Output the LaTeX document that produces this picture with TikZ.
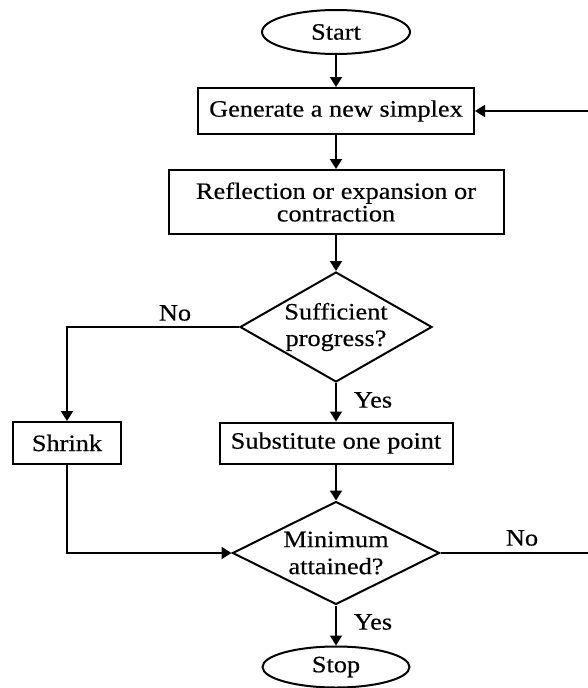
\documentclass[tikz,border=0pt]{standalone}
\usepackage{fontspec}
\setmainfont{Liberation Serif}[FakeStretch=1.12,FakeBold=0.4]
\usetikzlibrary{shapes.geometric,arrows.meta}
\begin{document}
\begin{tikzpicture}[x=1pt,y=-1pt,
  line width=2pt,
  every node/.style={font=\fontsize{23.5}{23}\selectfont},
  term/.style={draw,ellipse,minimum width=148pt,minimum height=44pt,inner sep=0pt},
  proc/.style={draw,rectangle,inner sep=0pt,align=center},
  dec/.style={draw,diamond,inner sep=0pt},
  lbl/.style={inner sep=0pt,align=center},
  arr/.style={-{Triangle[length=10pt,width=12pt]}}
]
\useasboundingbox (0,0) rectangle (587,688);
\node[term] (start) at (336,32) {Start};
\node[proc,minimum width=276pt,minimum height=46pt] (gen) at (336,111) {Generate a new simplex};
\node[proc,minimum width=335pt,minimum height=64pt,font=\fontsize{23.5}{22.5}\selectfont] (refl) at (336,202) {Reflection or expansion or\\contraction};
\node[dec,minimum width=192pt,minimum height=110pt] (d1) at (336,327) {};
\node[lbl,font=\fontsize{23.5}{26.5}\selectfont] (d1t) at (336,327) {Sufficient\\progress?};
\node[proc,minimum width=108pt,minimum height=42pt] (shrink) at (67,443) {Shrink};
\node[proc,minimum width=233pt,minimum height=41pt] (subst) at (336,443) {Substitute one point};
\node[dec,minimum width=207pt,minimum height=103pt] (d2) at (336,553) {};
\node[lbl,font=\fontsize{23.5}{27}\selectfont] (d2t) at (336,553) {Minimum\\attained?};
\node[term,minimum width=147pt,minimum height=41pt] (stop) at (336,667) {Stop};
\node[lbl] (no1) at (175,313) {No};
\node[lbl] (yes1) at (373,400) {Yes};
\node[lbl] (no2) at (522,538) {No};
\node[lbl] (yes2) at (373,622) {Yes};
\coordinate (c1) at (67,327);
\coordinate (c2) at (597,553);
\coordinate (c3) at (597,111);
\draw[arr] (start) -- (gen);
\draw[arr] (gen) -- (refl);
\draw[arr] (refl) -- (d1.north);
\draw[arr] (d1.west) -- (c1) -- (shrink.north);
\draw[arr] (d1.south) -- (subst.north);
\draw[arr] (subst.south) -- (d2.north);
\draw[arr] (shrink.south) |- (d2.west);
\draw[arr] (d2.south) -- (stop.north);
\draw[arr] (d2.east) -- (c2) -- (c3) -- (gen.east);
\end{tikzpicture}
\end{document}
